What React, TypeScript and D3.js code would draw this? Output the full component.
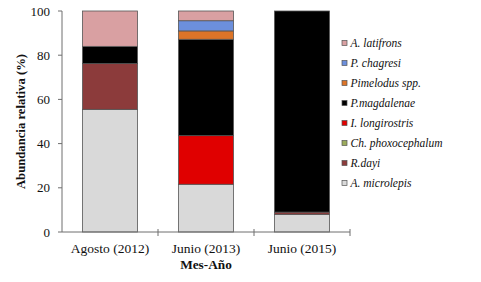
import React from "react";
import * as d3 from "d3";

const categories = ["Agosto (2012)", "Junio (2013)", "Junio (2015)"];
// stacking order bottom -> top
const species = [
  "A. microlepis",
  "R.dayi",
  "Ch. phoxocephalum",
  "I. longirostris",
  "P.magdalenae",
  "Pimelodus spp.",
  "P. chagresi",
  "A. latifrons",
];
const aMicrolepis = [55.5, 21.6, 8];
const rDayi = [20.7, 0, 1];
const chPhoxocephalum = [0, 0, 0];
const iLongirostris = [0, 22, 0];
const pMagdalenae = [7.8, 43.6, 91];
const pimelodus = [0, 3.8, 0];
const pChagresi = [0, 4.6, 0];
const aLatifrons = [16, 4.4, 0];
const colors = ["#d9d9d9", "#8c3b3b", "#9bab5c", "#e00000", "#000000", "#dc7428", "#6c8fdc", "#d9a0a2"];
const yTicks = [0, 20, 40, 60, 80, 100];

const seriesValues = [aMicrolepis, rDayi, chPhoxocephalum, iLongirostris, pMagdalenae, pimelodus, pChagresi, aLatifrons];

const FONT = { fontFamily: '"Liberation Serif", "DejaVu Serif", serif' };

export default function App() {
  const W = 481, H = 282;
  const left = 62, right = 350, top = 11, bottom = 232;
  const x = d3.scaleBand<string>().domain(categories).range([left, right]).paddingInner(0.427).paddingOuter(0.2135);
  const y = d3.scaleLinear().domain([0, 100]).range([bottom, top]);
  const rows = categories.map((c, i) => {
    const r: any = { cat: c };
    species.forEach((s, j) => (r[s] = seriesValues[j][i]));
    return r;
  });
  const stack = d3.stack<any>().keys(species)(rows);
  const step = x.step();
  const axisColor = "#6e6e6e";
  const legendOrder = [...species].reverse();

  return (
    <svg width={W} height={H} style={{ position: "absolute", left: 0, top: 0, background: "#fff" }}>
      {stack.map((layer, j) =>
        layer.map((d, i) => {
          const h = y(d[0]) - y(d[1]);
          if (h <= 0) return null;
          return (
            <rect key={`${j}-${i}`} x={x(categories[i])!} y={y(d[1])} width={x.bandwidth()} height={h}
              fill={colors[j]} stroke="#555" strokeWidth={0.8} />
          );
        })
      )}
      {/* y axis */}
      <line x1={left} x2={left} y1={top} y2={bottom} stroke={axisColor} strokeWidth={1} />
      {yTicks.map((t) => (
        <g key={t}>
          <line x1={left - 4} x2={left} y1={y(t)} y2={y(t)} stroke={axisColor} />
          <text style={FONT} x={50} y={y(t)} dy="0.35em" textAnchor="end" fontSize={13} fill="#111">{t}</text>
        </g>
      ))}
      {/* x axis */}
      <line x1={left} x2={right} y1={bottom} y2={bottom} stroke={axisColor} strokeWidth={1} />
      {categories.map((c, i) => (
        <g key={c}>
          <line x1={left + step * (i + 1)} x2={left + step * (i + 1)} y1={bottom - 3} y2={bottom + 4} stroke={axisColor} />
          <text style={FONT} x={x(c)! + x.bandwidth() / 2} y={253} textAnchor="middle" fontSize={13.5} fill="#111">{c}</text>
        </g>
      ))}
      <text style={FONT} x={(left + right) / 2} y={269} textAnchor="middle" fontSize={13.3} fontWeight="bold" fill="#111">Mes-Año</text>
      <text style={FONT} transform={`translate(21, ${(top + bottom) / 2}) rotate(-90)`} textAnchor="middle" dy="0.35em"
        fontSize={12.7} fontWeight="bold" fill="#111">Abundancia relativa (%)</text>
      {/* legend */}
      {legendOrder.map((s, k) => {
        const cy = 43 + k * 20;
        const j = species.indexOf(s);
        return (
          <g key={s}>
            <rect x={342} y={cy - 2.5} width={5} height={5} fill={colors[j]} stroke="#555" strokeWidth={0.7} />
            <text style={FONT} x={350.5} y={cy + 4} fontSize={11.5} fontStyle="italic" fill="#111">{s}</text>
          </g>
        );
      })}
    </svg>
  );
}
